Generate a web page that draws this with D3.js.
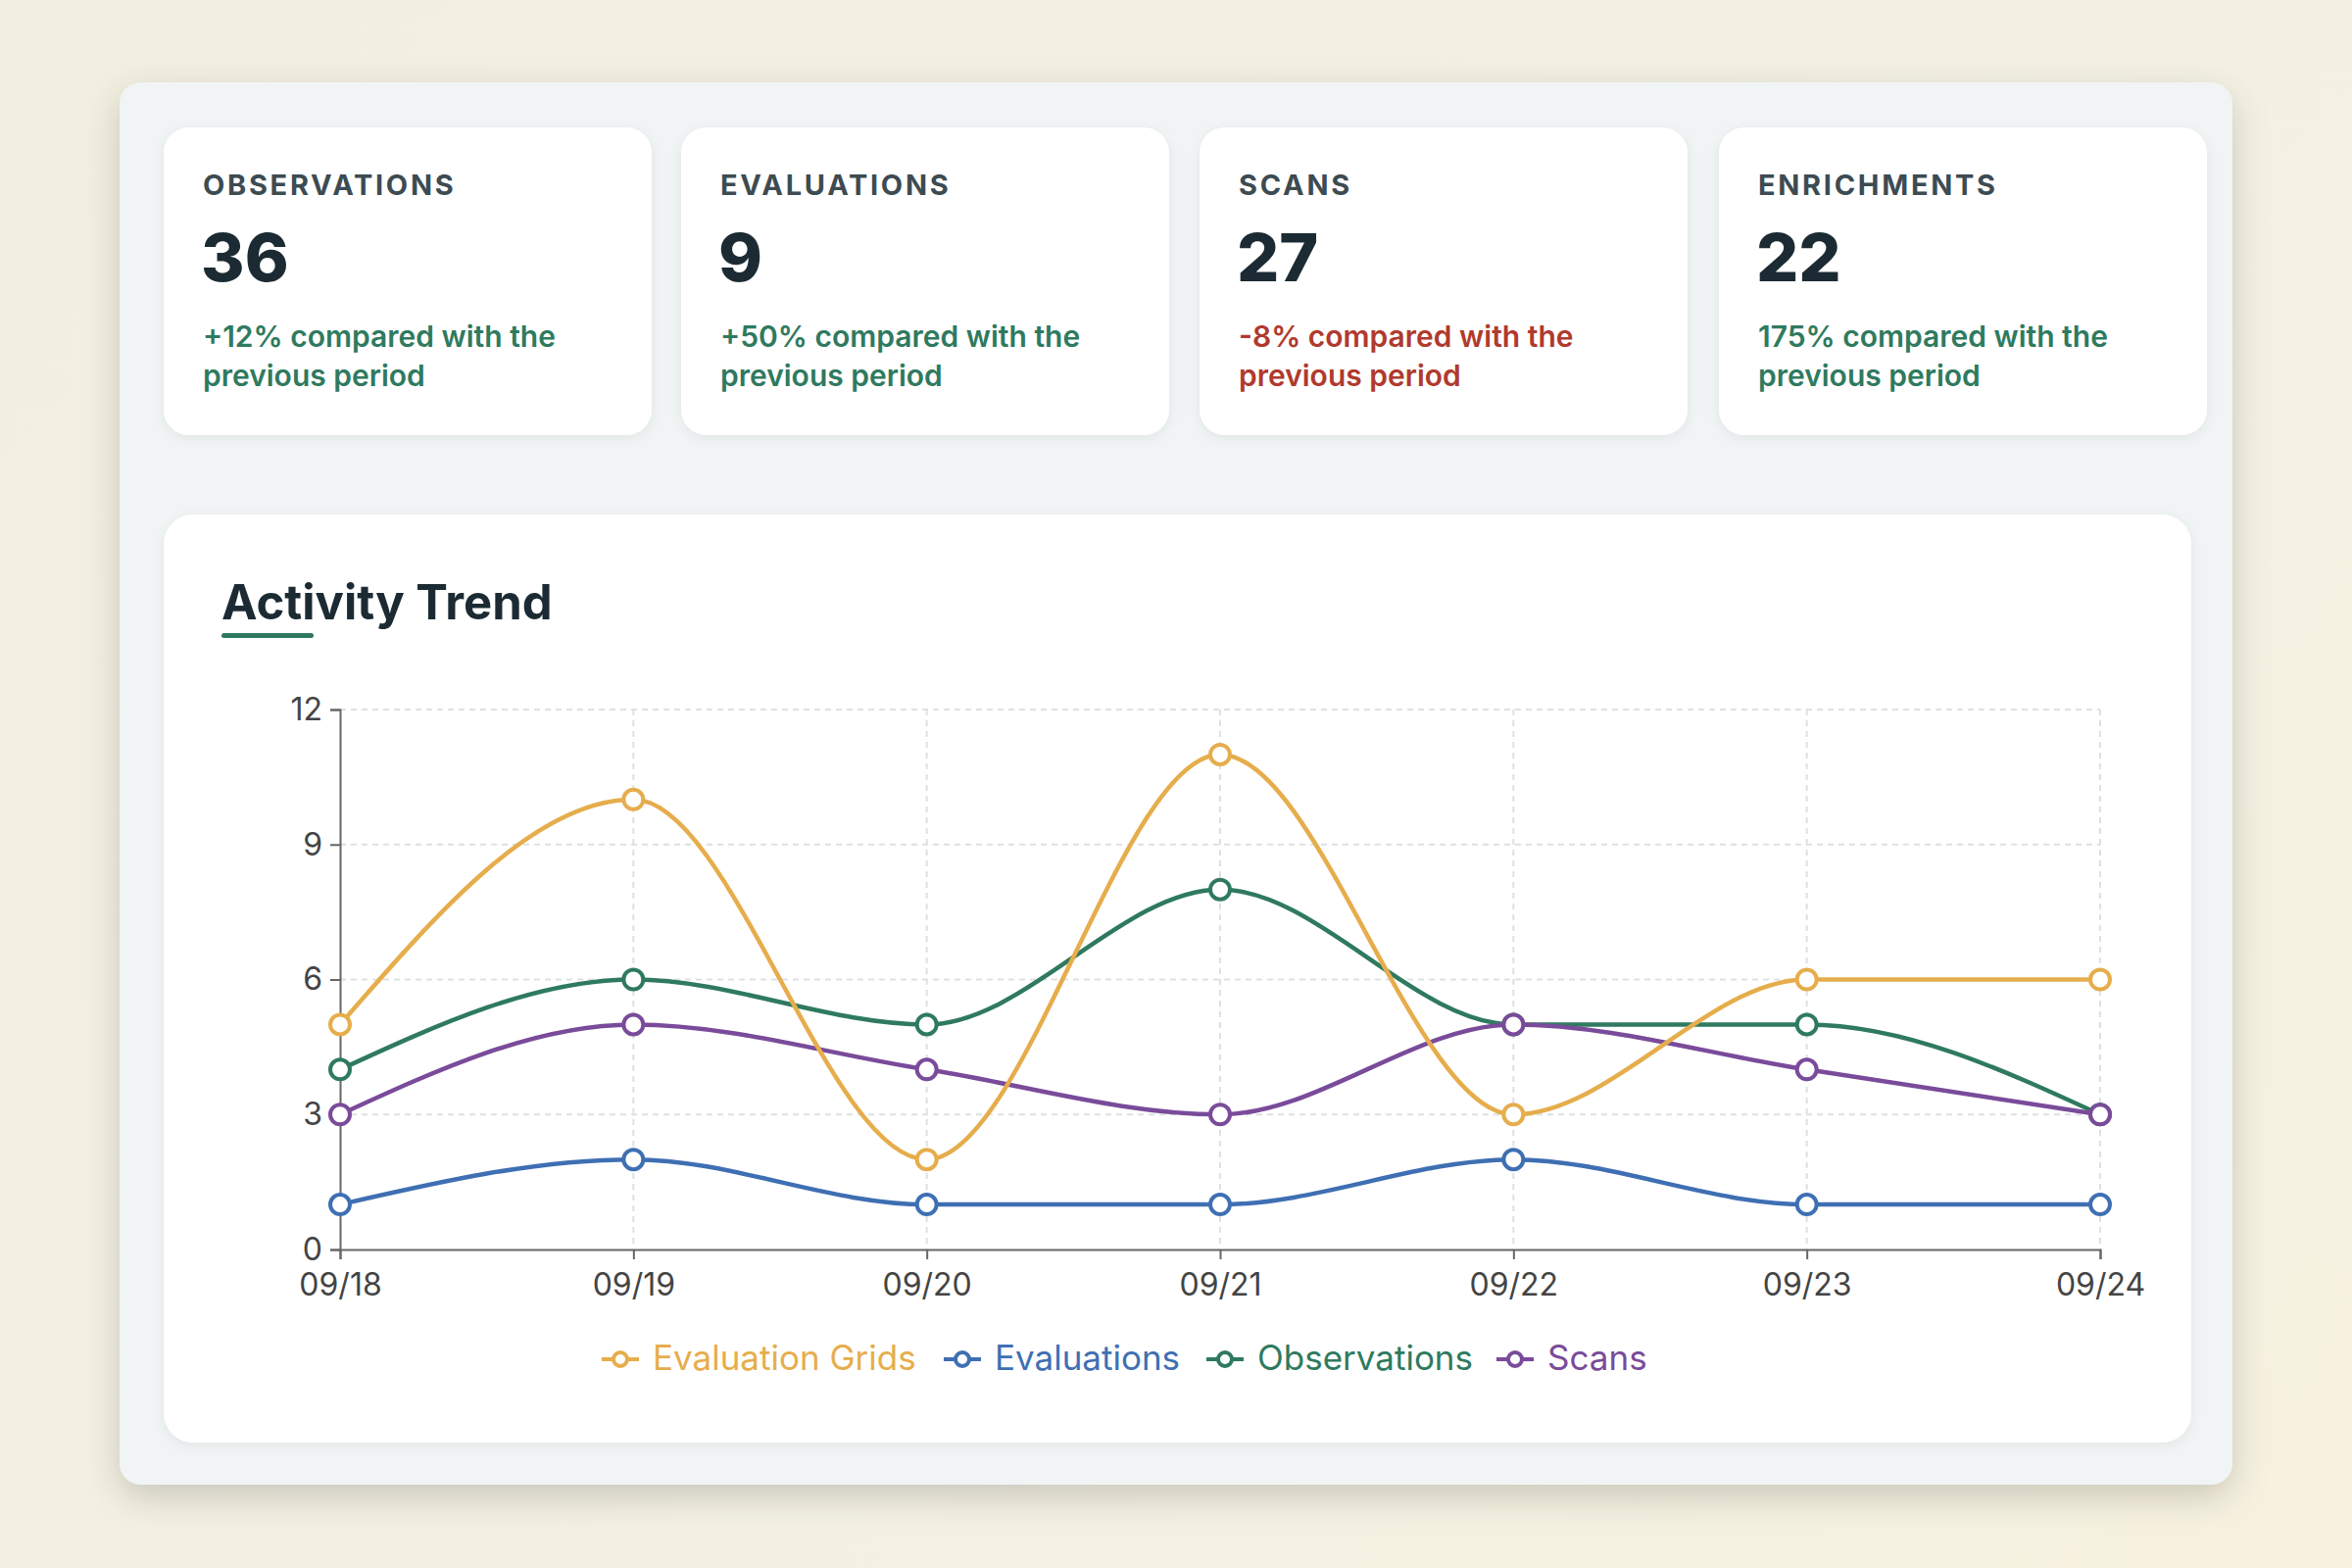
<!DOCTYPE html>
<html><head><meta charset="utf-8">
<script src="https://cdn.jsdelivr.net/npm/d3@7"></script>
<style>
body{margin:0;width:2400px;height:1600px;background:linear-gradient(135deg,#f3efe0,#f4f1e4 60%,#f7f2df);font-family:Inter,"Noto Sans",sans-serif;overflow:hidden}
</style></head>
<body><svg id="c" width="2400" height="1600"></svg>
<script>
const kpiLabels = ["OBSERVATIONS", "EVALUATIONS", "SCANS", "ENRICHMENTS"];
const kpiValues = [36, 9, 27, 22];
const kpiChanges = ["+12% compared with the", "+50% compared with the", "-8% compared with the", "175% compared with the"];
const kpiPositive = [true, true, false, true];

const dates = ["09/18", "09/19", "09/20", "09/21", "09/22", "09/23", "09/24"];
const seriesNames = ["Evaluation Grids", "Evaluations", "Observations", "Scans"];
const seriesColors = ["#e6ad4c", "#3f6fb3", "#2f7a5f", "#7a4b9a"];
const gridsValues = [5, 10, 2, 11, 3, 6, 6];
const evaluationsValues = [1, 2, 1, 1, 2, 1, 1];
const observationsValues = [4, 6, 5, 8, 5, 5, 3];
const scansValues = [3, 5, 4, 3, 5, 4, 3];
const yTicks = [0, 3, 6, 9, 12];

const svg = d3.select("#c");
const defs = svg.append("defs");
const sh = defs.append("filter").attr("id", "sh").attr("x", "-10%").attr("y", "-10%").attr("width", "120%").attr("height", "130%");
sh.append("feDropShadow").attr("dx", 0).attr("dy", 12).attr("stdDeviation", 18).attr("flood-color", "#000").attr("flood-opacity", 0.18);
const sh2 = defs.append("filter").attr("id", "sh2").attr("x", "-10%").attr("y", "-10%").attr("width", "120%").attr("height", "130%");
sh2.append("feDropShadow").attr("dx", 0).attr("dy", 3).attr("stdDeviation", 6).attr("flood-color", "#000").attr("flood-opacity", 0.06);

// outer panel
svg.append("rect").attr("x", 122).attr("y", 84).attr("width", 2156).attr("height", 1431).attr("rx", 22)
  .attr("fill", "#f1f4f4").attr("filter", "url(#sh)");

// KPI cards
const cardX = [167, 695, 1224, 1754];
kpiLabels.forEach((lab, i) => {
  const g = svg.append("g").attr("transform", `translate(${cardX[i]},130)`);
  g.append("rect").attr("width", 498).attr("height", 314).attr("rx", 26).attr("fill", "#fff").attr("filter", "url(#sh2)");
  g.append("text").attr("x", 40).attr("y", 69).attr("font-size", 29).attr("font-weight", 700)
    .attr("letter-spacing", 2.7).attr("fill", "#3d4b52").text(lab);
  g.append("text").attr("x", 38).attr("y", 157).attr("font-size", 68).attr("font-weight", 800)
    .attr("fill", "#1c2b33").text(kpiValues[i]);
  const col = kpiPositive[i] ? "#2f7a5f" : "#b03a2e";
  g.append("text").attr("x", 40).attr("y", 224).attr("font-size", 30).attr("font-weight", 600).attr("fill", col).text(kpiChanges[i]);
  g.append("text").attr("x", 40).attr("y", 264).attr("font-size", 30).attr("font-weight", 600).attr("fill", col).text("previous period");
});

// chart card
svg.append("rect").attr("x", 167).attr("y", 525).attr("width", 2069).attr("height", 947).attr("rx", 30)
  .attr("fill", "#fff").attr("filter", "url(#sh2)");
svg.append("text").attr("x", 226).attr("y", 632).attr("font-size", 49).attr("font-weight", 700)
  .attr("fill", "#1c2b33").text("Activity Trend");
svg.append("rect").attr("x", 226).attr("y", 646).attr("width", 94).attr("height", 5).attr("rx", 2.5).attr("fill", "#2f7a5f");

const x = d3.scalePoint().domain(dates).range([347, 2143]);
const y = d3.scaleLinear().domain([0, 12]).range([1275, 724]);

// grid
svg.append("g").selectAll("line").data(yTicks.slice(1)).join("line")
  .attr("x1", 347).attr("x2", 2143).attr("y1", d => y(d)).attr("y2", d => y(d))
  .attr("stroke", "#dde1e4").attr("stroke-dasharray", "6,5").attr("stroke-width", 2);
svg.append("g").selectAll("line").data(dates.slice(1)).join("line")
  .attr("x1", d => x(d)).attr("x2", d => x(d)).attr("y1", 724).attr("y2", 1275)
  .attr("stroke", "#dde1e4").attr("stroke-dasharray", "6,5").attr("stroke-width", 2);

const xa = svg.append("g").attr("transform", "translate(0,1275)")
  .call(d3.axisBottom(x).tickSize(10).tickPadding(14));
const ya = svg.append("g").attr("transform", "translate(347,0)")
  .call(d3.axisLeft(y).tickValues(yTicks).tickSize(10).tickPadding(8));
[xa, ya].forEach(a => {
  a.selectAll("path,line").attr("stroke", "#666").attr("stroke-width", 2);
  a.selectAll("text").attr("font-size", 32).attr("fill", "#444").attr("font-family", "Inter,sans-serif");
});

const allSeries = [gridsValues, evaluationsValues, observationsValues, scansValues];
const line = d3.line().x((d, i) => x(dates[i])).y(d => y(d)).curve(d3.curveMonotoneX);
// draw order: observations, scans, evaluations, grids
[2, 1, 3, 0].forEach(s => {
  const g = svg.append("g");
  g.append("path").attr("d", line(allSeries[s])).attr("fill", "none")
    .attr("stroke", seriesColors[s]).attr("stroke-width", 4.5);
  g.selectAll("circle").data(allSeries[s]).join("circle")
    .attr("cx", (d, i) => x(dates[i])).attr("cy", d => y(d)).attr("r", 10)
    .attr("fill", "#fff").attr("stroke", seriesColors[s]).attr("stroke-width", 4);
});

// legend
const legX = [614, 963, 1231, 1527];
seriesNames.forEach((n, i) => {
  const g = svg.append("g").attr("transform", `translate(${legX[i]},1387)`);
  g.append("line").attr("x1", 0).attr("x2", 38).attr("stroke", seriesColors[i]).attr("stroke-width", 4);
  g.append("circle").attr("cx", 19).attr("r", 7).attr("fill", "#fff").attr("stroke", seriesColors[i]).attr("stroke-width", 4);
  g.append("text").attr("x", 52).attr("y", 11).attr("font-size", 35).attr("fill", seriesColors[i]).text(n);
});
</script></body></html>
